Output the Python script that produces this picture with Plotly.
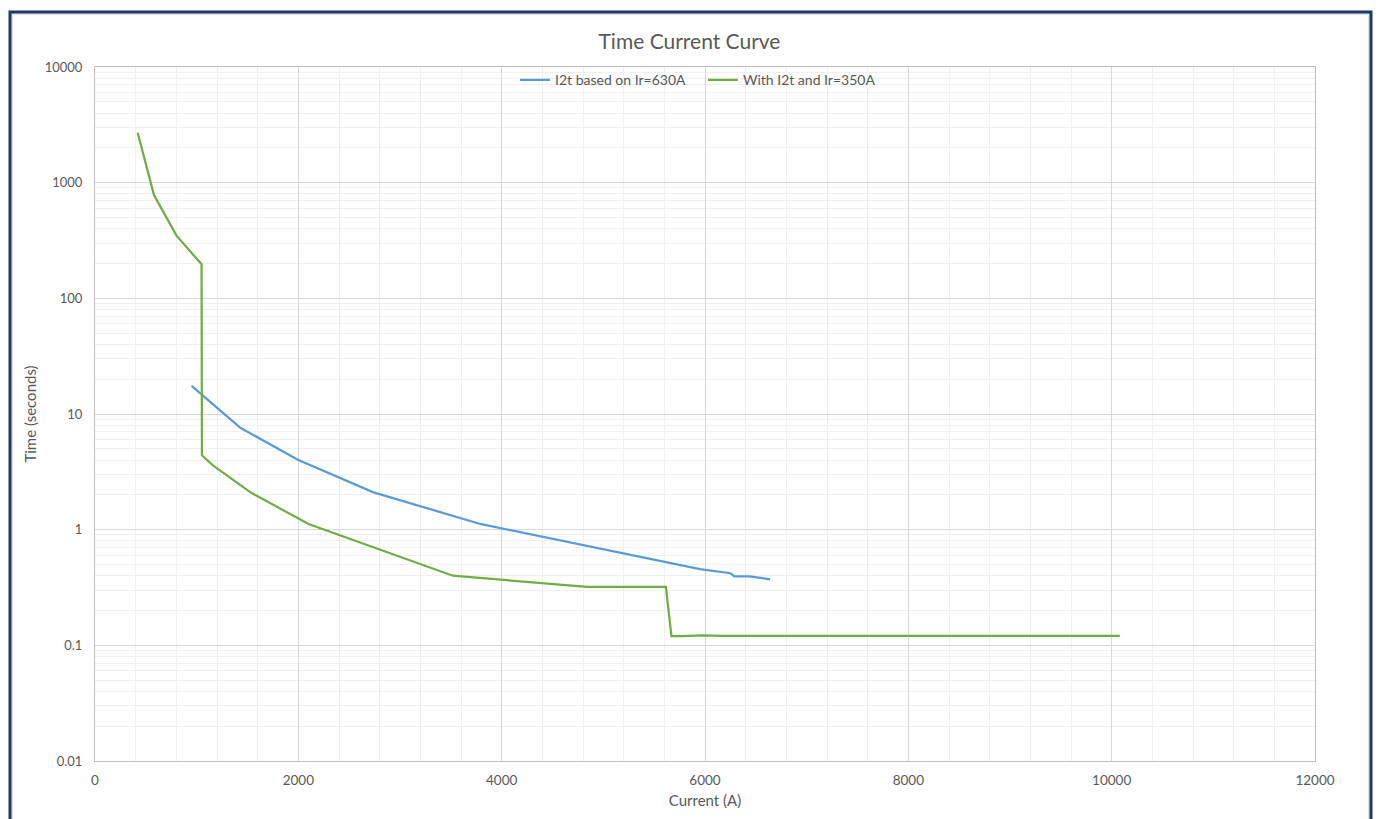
import plotly.graph_objects as go

# Time-current characteristic data (current in A, trip time in s)
i2t_630_current = [950, 1430, 2000, 2740, 3790, 5950, 6250, 6290, 6440, 6640]
i2t_630_time = [17.5, 7.6, 4.0, 2.1, 1.12, 0.455, 0.42, 0.395, 0.395, 0.372]

i2t_350_current = [420, 580, 800, 985, 1048, 1052, 1160, 1530, 2100, 3520,
                   4840, 5615, 5670, 5780, 5980, 6150, 6400, 6550, 6850, 10080]
i2t_350_time = [2700, 780, 350, 225, 197, 4.4, 3.6, 2.1, 1.12, 0.40,
                0.32, 0.32, 0.12, 0.12, 0.122, 0.121, 0.121, 0.122, 0.121, 0.121]

x_ticks = [0, 2000, 4000, 6000, 8000, 10000, 12000]
y_ticks = [0.01, 0.1, 1, 10, 100, 1000, 10000]
y_tick_text = ["0.01", "0.1", "1", "10", "100", "1000", "10000"]

FONT = "Lato"
TXT = "#595959"

fig = go.Figure()
fig.add_trace(go.Scatter(
    x=i2t_630_current, y=i2t_630_time, mode="lines",
    name="I2t based on Ir=630A",
    line=dict(color="#5B9BD5", width=2.25),
))
fig.add_trace(go.Scatter(
    x=i2t_350_current, y=i2t_350_time, mode="lines",
    name="With I2t and Ir=350A",
    line=dict(color="#70AD47", width=2.25),
))

fig.update_layout(
    width=1379, height=819,
    margin=dict(l=95, r=64, t=67, b=58),
    paper_bgcolor="white", plot_bgcolor="white",
    font=dict(family=FONT, size=13, color=TXT),
    title=dict(text="Time Current Curve", x=0.5, xref="container", xanchor="center",
               y=1 - 42 / 819, yanchor="middle",
               font=dict(family=FONT, size=21, color=TXT)),
    showlegend=True,
    legend=dict(orientation="h", x=(515 - 95) / 1220, xanchor="left", y=0.981, yanchor="middle",
                bgcolor="rgba(0,0,0,0)", font=dict(family=FONT, size=14, color=TXT),
                itemwidth=30, entrywidth=143, entrywidthmode="pixels", tracegroupgap=0),
)

fig.update_xaxes(
    range=[0, 12000], tickvals=x_ticks, ticktext=[str(v) for v in x_ticks],
    showgrid=True, gridcolor="#d9d9d9", gridwidth=1,
    minor=dict(dtick=400, showgrid=True, gridcolor="#f0f0f0", gridwidth=1),
    showline=True, linecolor="#bfbfbf", linewidth=1, mirror=True,
    zeroline=False, ticks="", ticklabelstandoff=7,
    tickfont=dict(family=FONT, size=13.5, color=TXT),
    title=dict(text="Current (A)", standoff=8, font=dict(family=FONT, size=15, color=TXT)),
)
fig.update_yaxes(
    type="log", range=[-2, 4], tickvals=y_ticks, ticktext=y_tick_text,
    showgrid=True, gridcolor="#d9d9d9", gridwidth=1,
    minor=dict(dtick="D1", showgrid=True, gridcolor="#f0f0f0", gridwidth=1),
    showline=True, linecolor="#bfbfbf", linewidth=1, mirror=True,
    zeroline=False, ticks="", ticklabelstandoff=9,
    tickfont=dict(family=FONT, size=13, color=TXT),
    title=dict(text="Time (seconds)", standoff=4, font=dict(family=FONT, size=15, color=TXT)),
)

# Chart frame
fig.add_shape(type="rect", xref="paper", yref="paper",
              x0=(12 - 95) / 1220, x1=(1369 - 95) / 1220,
              y0=(761 - 840) / 694, y1=(761 - 14) / 694,
              line=dict(color="#e3e3e3", width=2), layer="below")
fig.add_shape(type="rect", xref="paper", yref="paper",
              x0=(10 - 95) / 1220, x1=(1371 - 95) / 1220,
              y0=(761 - 840) / 694, y1=(761 - 12) / 694,
              line=dict(color="#1F3864", width=3), layer="above")

fig.write_html("out.html")
